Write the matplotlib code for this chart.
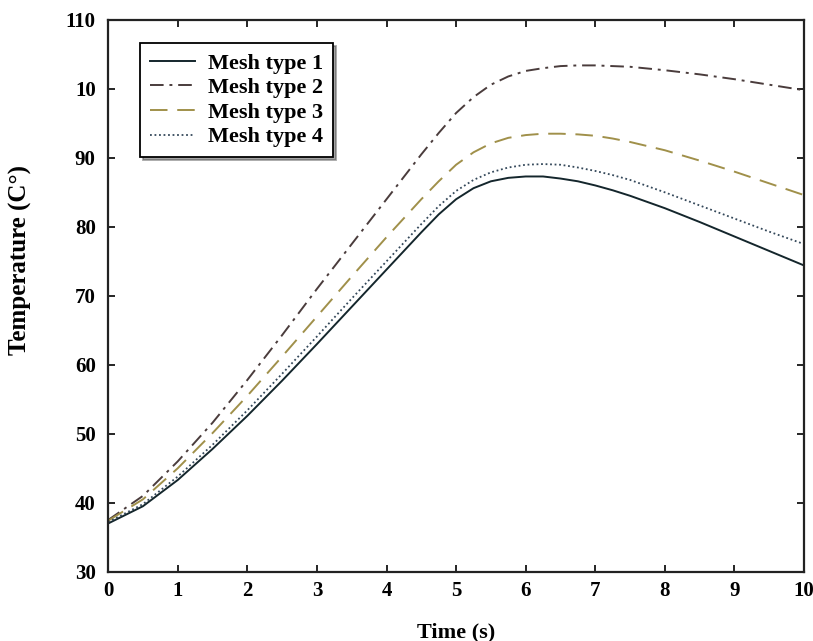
import matplotlib
matplotlib.use("Agg")  # headless backend

import matplotlib.pyplot as plt

# time axis (s), denser around the peak
time = [0, 0.5, 1, 1.5, 2, 2.5, 3, 3.5, 4, 4.5, 4.75, 5, 5.25, 5.5, 5.75, 6, 6.25,
        6.5, 6.75, 7, 7.25, 7.5, 8, 8.5, 9, 9.5, 10]

# temperature for each mesh type
mesh1 = [37.0, 39.5, 43.3, 47.8, 52.6, 57.7, 63.0, 68.4, 73.8, 79.2, 81.8, 84.0, 85.6,
         86.6, 87.1, 87.3, 87.3, 87.0, 86.6, 86.0, 85.3, 84.5, 82.7, 80.7, 78.6, 76.5, 74.4]
mesh2 = [37.5, 41.0, 46.0, 51.6, 57.8, 64.3, 71.0, 77.5, 84.0, 90.5, 93.6, 96.5, 98.8,
         100.6, 101.8, 102.6, 103.0, 103.3, 103.4, 103.4, 103.3, 103.2, 102.7, 102.1,
         101.4, 100.6, 99.8]
mesh3 = [37.4, 40.5, 45.0, 50.1, 55.5, 61.2, 67.0, 72.8, 78.5, 84.0, 86.6, 89.0, 90.8,
         92.1, 92.9, 93.3, 93.5, 93.5, 93.4, 93.2, 92.8, 92.3, 91.1, 89.6, 88.0, 86.3, 84.6]
mesh4 = [37.2, 39.8, 43.8, 48.4, 53.4, 58.7, 64.1, 69.6, 75.0, 80.4, 83.0, 85.2, 86.8,
         87.9, 88.6, 89.0, 89.1, 89.0, 88.6, 88.1, 87.5, 86.8, 85.0, 83.1, 81.2, 79.3, 77.5]

labels = ["Mesh type 1", "Mesh type 2", "Mesh type 3", "Mesh type 4"]
yticks = [30, 40, 50, 60, 70, 80, 90, 100, 110]
yticklabels = ["30", "40", "50", "60", "70", "80", "90", "10", "110"]

plt.rcParams["font.family"] = ["Liberation Serif", "DejaVu Serif"]
plt.rcParams["font.weight"] = "bold"

fig = plt.figure(figsize=(8.13, 6.41), dpi=100)
ax = fig.add_axes([0.133, 0.108, 0.856, 0.861])

ax.plot(time, mesh1, color="#14262c", lw=1.4, ls="-", label=labels[0])
ax.plot(time, mesh2, color="#4a3c3c", lw=1.4, ls=(0, (7, 3, 1.5, 3)), label=labels[1])
ax.plot(time, mesh3, color="#a0904a", lw=1.4, ls=(0, (9, 5)), label=labels[2])
ax.plot(time, mesh4, color="#34485a", lw=1.3, ls=(0, (1, 1.5)), label=labels[3])

ax.set_xlim(0, 10)
ax.set_ylim(30, 110)
ax.set_xticks(range(0, 11))
ax.set_yticks(yticks)
ax.set_yticklabels(yticklabels)
ax.tick_params(direction="in", top=True, right=True, labelsize=15, length=5, width=1.2)
ax.tick_params(axis="x", pad=7)
ax.tick_params(axis="y", pad=9)
for s in ax.spines.values():
    s.set_linewidth(1.6)
    s.set_color("#222222")

ax.set_xlabel("Time (s)", fontsize=16, fontweight="bold", labelpad=15)
ax.set_ylabel("Temperature (C°)", fontsize=18, fontweight="bold")
ax.yaxis.set_label_coords(-0.109, 0.565)

leg = ax.legend(loc="upper left", bbox_to_anchor=(0.03, 0.978), fontsize=16,
                fancybox=False, shadow=True, handlelength=2.0, borderpad=0.45,
                labelspacing=0.18, handletextpad=0.6, framealpha=1)
leg.get_frame().set_edgecolor("black")
leg.get_frame().set_linewidth(1.3)

plt.savefig("out.png", dpi=100)
